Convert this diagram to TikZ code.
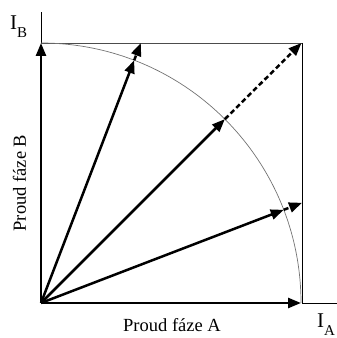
\documentclass[tikz,border=0pt]{standalone}
\usepackage{fontspec}
\setmainfont{Liberation Serif}
\usetikzlibrary{arrows.meta,calc}
\begin{document}
\begin{tikzpicture}[x=1pt,y=1pt,
  vec/.style={line width=2.5pt,-{Triangle[length=13pt,width=10pt]}},
  dvec/.style={line width=2.5pt,dash pattern=on 5pt off 3pt,-{Triangle[length=13pt,width=10pt]}},
  thinln/.style={line width=0.8pt},
  lbl/.style={inner sep=0pt,font=\fontsize{18.5}{22}\selectfont}]
\useasboundingbox (0,0) rectangle (337,338);
\coordinate (O) at (41,35);
\coordinate (TL) at (41,295);
\coordinate (TR) at (302,295);
\coordinate (BR) at (302,35);
\coordinate (Ytop) at (41,326);
\coordinate (Xend) at (337,35);
% square and axes
\draw[thinln,black!70] (TL) -- (TR);
\draw[thinln] (TR) -- (BR);
\draw[thinln] (TL) -- (Ytop);
\draw[thinln] (BR) -- (Xend);
% arc
\draw[line width=0.7pt,black!55] (TL) arc[start angle=90,end angle=0,radius=260];
% arc points and outer points
\coordinate (A1) at ($(O)+(69:260)$);
\coordinate (B1) at (140.8,295);
\coordinate (A2) at ($(O)+(45:260)$);
\coordinate (B2) at (301.5,295);
\coordinate (A3) at ($(O)+(21:260)$);
\coordinate (B3) at (302,135.2);
\coordinate (AY) at (41,295);
\coordinate (AX) at (301,35);
% vectors
\draw[vec] (O) -- (AY);
\draw[vec] (O) -- (AX);
\draw[vec] (O) -- (A1);
\draw[dvec] (A1) -- (B1);
\draw[vec] (O) -- (A2);
\draw[dvec] (A2) -- (B2);
\draw[vec] (O) -- (A3);
\draw[dvec] (A3) -- (B3);
% labels
\node[lbl,anchor=base west] (lA) at (123,6) {Proud fáze A};
\node[lbl,anchor=base,rotate=90] (lB) at (26,155) {Proud fáze B};
\node[inner sep=0pt,anchor=base west] (IB) at (10,308)
  {\fontsize{21}{24}\selectfont I\raisebox{-8pt}{\fontsize{15}{18}\selectfont B}};
\node[inner sep=0pt,anchor=base west] (IA) at (317,10)
  {\fontsize{21}{24}\selectfont I\raisebox{-8pt}{\fontsize{15}{18}\selectfont A}};
\end{tikzpicture}
\end{document}
